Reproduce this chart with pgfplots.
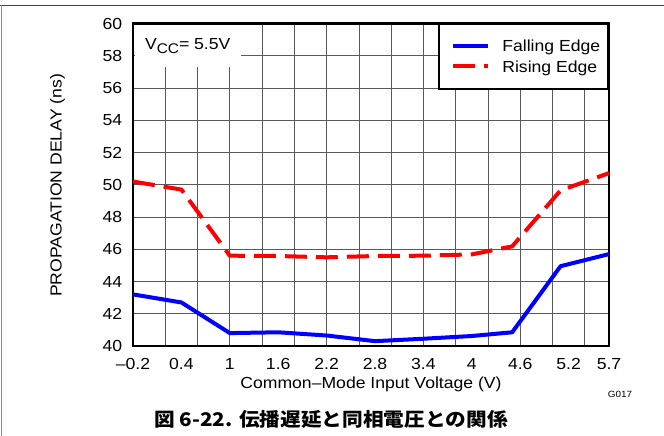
\documentclass[border=0pt]{standalone}
\usepackage{fontspec}
\setmainfont{Liberation Sans}[FakeStretch=1.1]
\newfontfamily\cjk{Noto Sans CJK JP}[FakeStretch=1.1]
\usepackage{pgfplots}
\pgfplotsset{compat=1.18}
\newcommand\fs{\fontsize{16}{19}\selectfont}

\begin{document}
\begin{tikzpicture}[font=\fs]
  \path[use as bounding box] (0pt,0pt) rectangle (664pt,436pt);
  % frame of the datasheet figure
  \draw[black!75, line width=0.8pt] (0pt,431pt) -- (664pt,431pt);
  \draw[black!45, line width=0.8pt] (1pt,431pt) -- (1pt,0pt);

  \begin{axis}[
      scale only axis,
      width=476pt, height=322.5pt,
      at={(133pt,90pt)}, anchor=south west,
      xmin=-0.2, xmax=5.7, ymin=40, ymax=60,
      xtick={-0.2,0.4,1,1.6,2.2,2.8,3.4,4,4.6,5.2,5.7},
      xticklabels={\textendash0.2,0.4,1,1.6,2.2,2.8,3.4,4,4.6,5.2,5.7},
      minor xtick={-0.2,0.2,0.6,1.0,1.4,1.8,2.2,2.6,3.0,3.4,3.8,4.2,4.6,5.0,5.4},
      ytick={40,42,44,46,48,50,52,54,56,58,60},
      yticklabels={40,42,44,46,48,50,52,54,56,58,60},
      xmajorgrids=false, xminorgrids=true, ymajorgrids=true,
      major tick length=0pt, minor tick length=0pt,
      grid style={black!65, line width=0.8pt},
      minor grid style={black!65, line width=0.8pt},
      axis line style={line width=2.4pt},
      xticklabel style={font=\fs, inner sep=0pt, anchor=base, yshift=-23.8pt},
      yticklabel style={font=\fs, inner sep=0pt, anchor=east, xshift=-10.7pt},
      legend image code/.code={
        \path (0pt,0pt) (39.6pt,6pt);
        \draw[#1] (4pt,6pt) -- (39.6pt,6pt);
      },
      legend style={
        at={(rel axis cs:1,1)}, anchor=north east,
        draw=black, line width=1.6pt, fill=white,
        inner xsep=8pt, inner ysep=11.8pt,
        nodes={inner sep=0pt, text height=15.5pt, text depth=4.7pt, font=\fs},
        cells={anchor=base west},
        row sep=0.5pt, column sep=12pt,
      },
    ]

    \addplot[blue, line width=4pt, line join=round] coordinates {
      (-0.2,43.2) (0.4,42.7) (1.0,40.8) (1.6,40.85) (2.2,40.65) (2.8,40.3)
      (3.4,40.45) (4.0,40.62) (4.5,40.85) (5.1,44.95) (5.7,45.7)
    };
    \addlegendentry{Falling Edge}

    \addplot[red, line width=4pt, dash pattern=on 22pt off 9pt] coordinates {
      (-0.2,50.2) (0.4,49.7) (1.0,45.6) (1.6,45.58) (2.2,45.5) (2.8,45.58)
      (3.4,45.6) (4.0,45.68) (4.5,46.18) (5.1,49.65) (5.7,50.72)
    };
    \addlegendentry{Rising Edge}

    \node[fill=white, inner sep=0pt, minimum width=106.5pt, minimum height=42pt,
          anchor=north west, xshift=1.3pt, yshift=-1.3pt]
      at (rel axis cs:0,1) {V\raisebox{-3.3pt}{\fontsize{14}{14}\selectfont CC}= 5.5V};
  \end{axis}

  \node[anchor=base] at (371pt,47pt) {Common\textendash Mode Input Voltage (V)};
  \node[rotate=90] at (57.5pt,250.5pt) {PROPAGATION DELAY (ns)};
  \node[font=\fontsize{9}{10}\selectfont] at (620pt,42pt) {G017};
  \node at (331pt,17pt) {\fontsize{18.8}{22}\selectfont\cjk\bfseries 図 6-22. 伝播遅延と同相電圧との関係};
\end{tikzpicture}
\end{document}
